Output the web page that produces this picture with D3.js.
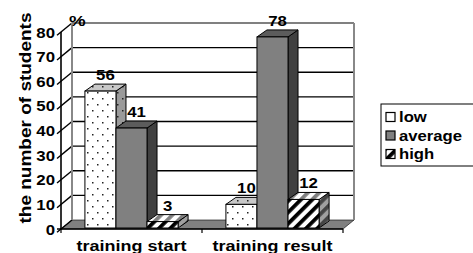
<!DOCTYPE html>
<html lang="en">
<head>
<meta charset="UTF-8">
<title>Students chart</title>
<script src="https://cdn.jsdelivr.net/npm/d3@7"></script>
<style>
  body { margin: 0; background: #fff; }
  text { font-family: "Liberation Sans", Arial, sans-serif; font-weight: bold; fill: #000; }
</style>
</head>
<body>
<script>
// data
var categories = ['training start', 'training result'];
var seriesNames = ['low', 'average', 'high'];
var low = [56, 10];
var average = [41, 78];
var high = [3, 12];
var yTicks = [0, 10, 20, 30, 40, 50, 60, 70, 80];

var values = [low, average, high];

var width = 473, height = 253;
var wallDx = 11, wallDy = -9;   // depth of the back wall
var barDx = 10, barDy = -7;     // depth of a column

var svg = d3.select('body').append('svg')
    .attr('width', width).attr('height', height);

// patterns ------------------------------------------------
var defs = svg.append('defs');
function dots(id, bg) {
    var p = defs.append('pattern').attr('id', id).attr('patternUnits', 'userSpaceOnUse')
        .attr('width', 10).attr('height', 12);
    p.append('rect').attr('width', 10).attr('height', 12).attr('fill', bg);
    p.append('rect').attr('x', 2).attr('y', 2).attr('width', 1.5).attr('height', 1.5).attr('fill', '#222');
    p.append('rect').attr('x', 7).attr('y', 8).attr('width', 1.5).attr('height', 1.5).attr('fill', '#222');
}
function stripes(id, bg, fg) {
    var p = defs.append('pattern').attr('id', id).attr('patternUnits', 'userSpaceOnUse')
        .attr('width', 8).attr('height', 8).attr('patternTransform', 'rotate(45)');
    p.append('rect').attr('width', 8).attr('height', 8).attr('fill', bg);
    p.append('rect').attr('width', 3.8).attr('height', 8).attr('fill', fg);
}
dots('dotFront', '#fff');
dots('dotTop', '#c8c8c8');
dots('dotSide', '#9a9a9a');
stripes('strFront', '#fff', '#000');
stripes('strTop', '#fff', '#808080');
stripes('strSide', '#a0a0a0', '#444');

var fills = {
    low: {front: 'url(#dotFront)', top: 'url(#dotTop)', side: 'url(#dotSide)'},
    average: {front: '#808080', top: '#5c5c5c', side: '#404040'},
    high: {front: 'url(#strFront)', top: 'url(#strTop)', side: 'url(#strSide)'}
};

// scales --------------------------------------------------
var y = d3.scaleLinear().domain([0, 80]).range([229, 32]);
var x0 = d3.scaleBand().domain(categories).range([61, 343]);
var x1 = d3.scaleBand().domain(seriesNames).range([0, x0.bandwidth()]).paddingOuter(0.77);

var left = x0.range()[0], right = x0.range()[1];

// walls and floor -----------------------------------------
var g = svg.append('g');
g.append('path')
    .attr('d', 'M' + left + ',' + y(0) + 'L' + right + ',' + y(0) +
        'L' + (right + wallDx) + ',' + (y(0) + wallDy) + 'L' + (left + wallDx) + ',' + (y(0) + wallDy) + 'Z')
    .attr('fill', '#808080').attr('stroke', '#000').attr('stroke-width', 0.6);

// back wall gridlines
g.selectAll('line.grid').data(yTicks.slice(1)).enter().append('line')
    .attr('class', 'grid')
    .attr('x1', left + wallDx).attr('x2', right + wallDx)
    .attr('y1', function (d) { return y(d) + wallDy; })
    .attr('y2', function (d) { return y(d) + wallDy; })
    .attr('stroke', function (d) { return d === 80 ? '#808080' : '#000'; })
    .attr('stroke-width', function (d) { return d === 80 ? 2 : 1.4; });

// left wall diagonals (ticks)
g.selectAll('line.tick').data(yTicks).enter().append('line')
    .attr('class', 'tick')
    .attr('x1', left - 4).attr('y1', function (d) { return y(d) + 3.3; })
    .attr('x2', left + wallDx).attr('y2', function (d) { return y(d) + wallDy; })
    .attr('stroke', '#000').attr('stroke-width', 1.4);

// back edges
g.append('line').attr('x1', left + wallDx).attr('x2', left + wallDx)
    .attr('y1', y(80) + wallDy).attr('y2', y(0) + wallDy)
    .attr('stroke', '#888').attr('stroke-width', 2);
g.append('line').attr('x1', right + wallDx).attr('x2', right + wallDx)
    .attr('y1', y(80) + wallDy).attr('y2', y(0) + wallDy)
    .attr('stroke', '#888').attr('stroke-width', 2);

// front axes
g.append('line').attr('x1', left).attr('x2', left)
    .attr('y1', y(80)).attr('y2', y(0)).attr('stroke', '#000').attr('stroke-width', 1.6);
g.append('line').attr('x1', left - 4).attr('x2', right)
    .attr('y1', y(0)).attr('y2', y(0)).attr('stroke', '#000').attr('stroke-width', 1.6);
g.selectAll('line.xtick').data([left, x0(categories[1]), right]).enter().append('line')
    .attr('x1', function (d) { return d; }).attr('x2', function (d) { return d; })
    .attr('y1', y(0)).attr('y2', y(0) + 4).attr('stroke', '#000').attr('stroke-width', 1.2);

// y tick labels
g.selectAll('text.ylab').data(yTicks).enter().append('text')
    .attr('transform', function (d) { return 'translate(55,' + (y(d) + 5.5) + ') scale(1.12,1)'; })
    .attr('text-anchor', 'end').style('font-size', '15px')
    .text(function (d) { return d; });

g.append('text').attr('transform', 'translate(69,26) scale(1.25,1)')
    .style('font-size', '15px').text('%');

// y title
g.append('text')
    .attr('transform', 'translate(31,118) rotate(-90)')
    .attr('text-anchor', 'middle').style('font-size', '17px')
    .attr('textLength', 211).attr('lengthAdjust', 'spacingAndGlyphs')
    .text('the number of students');

// category labels
g.selectAll('text.cat').data(categories).enter().append('text')
    .attr('x', function (d) { return x0(d) + x0.bandwidth() / 2; })
    .attr('y', 251).attr('text-anchor', 'middle').style('font-size', '14.5px')
    .attr('textLength', function (d, i) { return i === 0 ? 110 : 120; })
    .attr('lengthAdjust', 'spacingAndGlyphs')
    .text(function (d) { return d; });

// bars ----------------------------------------------------
var bars = [];
seriesNames.forEach(function (s, si) {
    categories.forEach(function (c, ci) {
        bars.push({s: s, c: c, v: values[si][ci]});
    });
});

var bw = x1.bandwidth();
var barG = svg.append('g');
bars.forEach(function (b) {
    var bx = x0(b.c) + x1(b.s), top = y(b.v), bot = y(0) - 1;
    var f = fills[b.s];
    var grp = barG.append('g');
    // side
    grp.append('path')
        .attr('d', 'M' + (bx + bw) + ',' + bot + 'L' + (bx + bw) + ',' + top +
            'L' + (bx + bw + barDx) + ',' + (top + barDy) + 'L' + (bx + bw + barDx) + ',' + (bot + barDy) + 'Z')
        .attr('fill', f.side).attr('stroke', '#000').attr('stroke-width', 1);
    // top
    grp.append('path')
        .attr('d', 'M' + bx + ',' + top + 'L' + (bx + bw) + ',' + top +
            'L' + (bx + bw + barDx) + ',' + (top + barDy) + 'L' + (bx + barDx) + ',' + (top + barDy) + 'Z')
        .attr('fill', f.top).attr('stroke', '#000').attr('stroke-width', 1);
    // front
    grp.append('rect').attr('x', bx).attr('y', top).attr('width', bw).attr('height', bot - top)
        .attr('fill', f.front).attr('stroke', '#000').attr('stroke-width', 1);
    // value
    grp.append('text')
        .attr('transform', 'translate(' + (bx + (bw + barDx) / 2) + ',' + (top + barDy - 4) + ') scale(1.12,1)')
        .attr('text-anchor', 'middle').style('font-size', '15px')
        .text(b.v);
});

// legend --------------------------------------------------
var lg = svg.append('g');
lg.append('rect').attr('x', 381).attr('y', 104).attr('width', 100).attr('height', 62)
    .attr('fill', '#fff').attr('stroke', '#000').attr('stroke-width', 1);
var legendFill = {low: '#fff', average: '#808080', high: 'url(#strFront)'};
var ly = d3.scalePoint().domain(seriesNames).range([117, 154]);
seriesNames.forEach(function (s) {
    lg.append('rect').attr('x', 386).attr('y', ly(s) - 4.5).attr('width', 9).attr('height', 9)
        .attr('fill', legendFill[s]).attr('stroke', '#000').attr('stroke-width', 1.2);
    lg.append('text').attr('transform', 'translate(399,' + (ly(s) + 5) + ') scale(1.15,1)')
        .style('font-size', '14.5px').text(s);
});
</script>
</body>
</html>
